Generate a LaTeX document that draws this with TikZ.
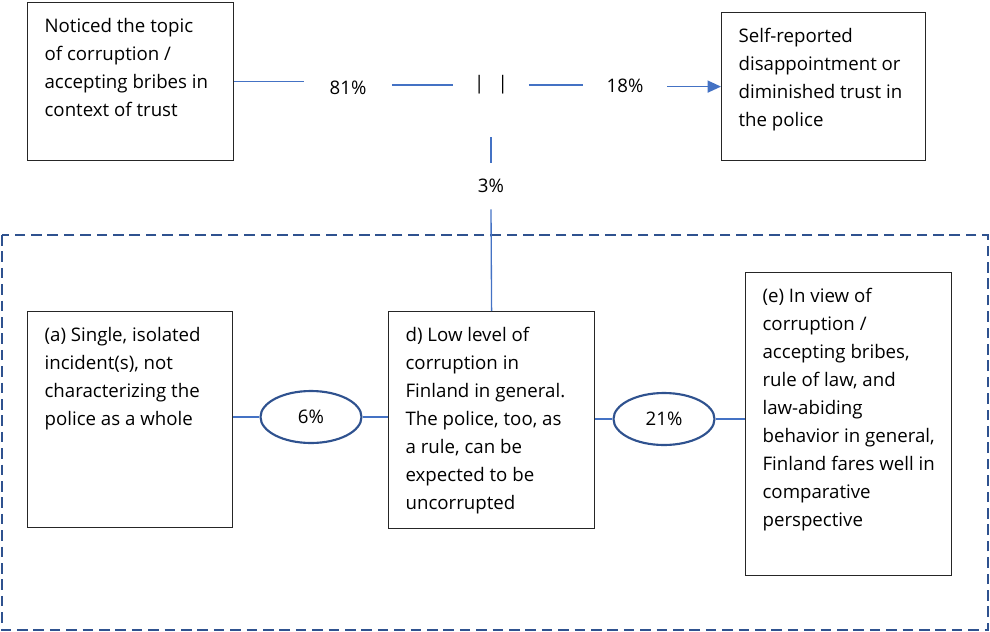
\documentclass[tikz,border=0pt]{standalone}
\usepackage{fontspec}
\setmainfont{Open Sans}
\usetikzlibrary{arrows.meta,positioning,shapes.geometric}
\definecolor{linkblue}{HTML}{4472C4}
\definecolor{frameblue}{HTML}{2F528F}
\newcommand{\celltext}[3]{\parbox[t][#2][t]{#1}{\begin{tabular}[t]{@{}l@{}}#3\end{tabular}}}

\begin{document}
\begin{tikzpicture}[
  x=0.75pt, y=-0.75pt,
  every node/.style={font=\fontsize{14}{21}\selectfont},
  box/.style={draw=black!85, line width=0.9pt, anchor=north west, inner xsep=12.75pt, inner ysep=7.8pt},
  pct/.style={inner sep=0pt},
  ring/.style={ellipse, draw=frameblue, line width=1.6pt, minimum width=75.75pt, minimum height=39pt, inner sep=0pt},
  flow/.style={draw=linkblue, line width=1pt}
]
\useasboundingbox (0,0) rectangle (990,632);

% dashed frame round the three explanations
\draw[frameblue, line width=1.75pt, dash pattern=on 8pt off 4.3pt] (2,235) rectangle (988,630);

\node[box] (topic) at (27,2) {\celltext{129pt}{102.9pt}{Noticed the topic\\of corruption /\\accepting bribes in\\context of trust}};
\node[box] (trust) at (721,12) {\celltext{127.5pt}{95.4pt}{Self-reported\\disappointment or\\diminished trust in\\the police}};
\node[box] (single) at (27,311) {\celltext{128.25pt}{146.4pt}{(a) Single, isolated\\incident(s), not\\characterizing the\\police as a whole}};
\node[box] (low) at (388,311) {\celltext{129pt}{147.15pt}{d) Low level of\\corruption in\\Finland in general.\\The police, too, as\\a rule, can be\\expected to be\\uncorrupted}};
\node[box] (view) at (745,272) {\celltext{129pt}{211.65pt}{(e) In view of\\corruption /\\accepting bribes,\\rule of law, and\\law-abiding\\behavior in general,\\Finland fares well in\\comparative\\perspective}};

\node[pct, minimum width=65.25pt] (p81) at (348,88) {81\%};
\node[pct, minimum width=56.25pt, minimum height=78pt] (split) at (491,85) {|\hspace{10pt}|};
\node[pct, minimum width=63pt] (p18) at (625,86) {18\%};
\node[pct, minimum height=34.5pt] (p3) at (491,186) {3\%};

\node[ring] (e6) at (311,417) {6\%};
\node[ring] (e21) at (664,419) {21\%};

\draw[flow] (topic.east) -- (p81.west |- topic.east);
\draw[flow] (p81.east |- split) -- (split.west);
\draw[flow] (split.east) -- (p18.west |- split);
\draw[flow, -{Triangle[length=10pt, width=9pt]}] (p18.east |- trust) -- (trust.west);
\draw[flow] (split.south) -- (p3.north);
\draw[flow] (p3.south) -- (low.north);

\draw[flow] (single.east |- e6) -- (e6.west);
\draw[flow] (e6.east) -- (low.west |- e6);
\draw[flow] (low.east |- e21) -- (e21.west);
\draw[flow] (e21.east) -- (view.west |- e21);
\end{tikzpicture}
\end{document}
